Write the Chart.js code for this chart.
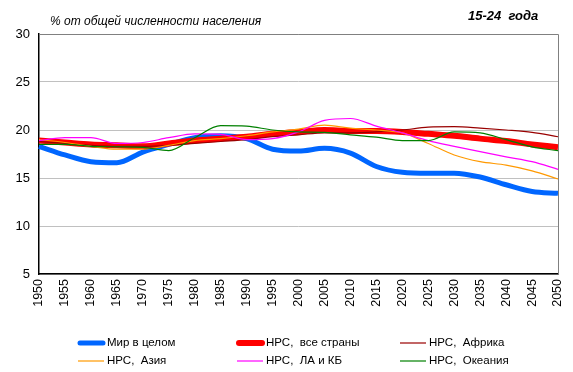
<!DOCTYPE html>
<html>
<head>
<meta charset="utf-8">
<script src="https://cdn.jsdelivr.net/npm/chart.js@4/dist/chart.umd.min.js"></script>
<style>
  html, body { margin: 0; padding: 0; background: #fff; }
  #wrap { width: 573px; height: 372px; }
</style>
</head>
<body>
<div id="wrap"><canvas id="chart" width="573" height="372"></canvas></div>
<script>
// years, one point every 5 years
const years = ['1950','1955','1960','1965','1970','1975','1980','1985','1990','1995','2000',
               '2005','2010','2015','2020','2025','2030','2035','2040','2045','2050'];

// share of 15-24 year olds, % of total population
const world    = [18.3,17.4,16.7,16.6,17.7,18.5,19.2,19.4,19.1,18.0,17.8,18.1,17.6,16.2,15.6,15.5,15.5,15.1,14.3,13.6,13.4];
const lessDev  = [18.9,18.7,18.5,18.4,18.3,18.6,18.9,19.1,19.3,19.6,19.8,20.0,19.9,19.9,19.8,19.6,19.4,19.1,18.85,18.5,18.2];
const africa   = [18.8,18.6,18.4,18.3,18.3,18.4,18.6,18.8,19.0,19.3,19.5,19.7,19.7,19.8,20.0,20.3,20.35,20.2,20.0,19.75,19.3];
const asia     = [19.0,18.7,18.3,18.0,18.0,18.4,18.9,19.1,19.4,19.8,20.1,20.5,20.2,20.0,19.7,18.6,17.4,16.7,16.35,15.75,14.9];
const latAm    = [18.9,19.2,19.2,18.6,18.7,19.2,19.6,19.55,19.0,19.1,19.8,21.0,21.2,20.4,19.7,18.9,18.3,17.75,17.2,16.7,15.9];
const oceania  = [18.5,18.5,18.3,18.25,18.2,17.85,19.2,20.45,20.4,20.0,19.8,19.75,19.5,19.25,18.9,18.9,19.8,19.7,19.0,18.25,17.85];

const yTicks = [5, 10, 15, 20, 25, 30];

const seriesLabels = ['Мир в целом', 'НРС,  все страны', 'НРС,  Африка', 'НРС,  Азия', 'НРС,  ЛА и КБ', 'НРС,  Океания'];
const seriesColors = ['#0066ff', '#ff0000', '#990000', '#ff9900', '#ff00ff', '#008000'];
const seriesWidths = [5, 6, 1.2, 1.2, 1.2, 1.2];
const seriesData = [world, lessDev, africa, asia, latAm, oceania];

const datasets = seriesData.map((d, i) => ({
  label: seriesLabels[i],
  data: d,
  borderColor: seriesColors[i],
  backgroundColor: seriesColors[i],
  borderWidth: seriesWidths[i],
  pointRadius: 0,
  tension: 0.4,
  cubicInterpolationMode: 'monotone',
  fill: false,
  order: 6 - i
}));

// titles, frame and a grid-like legend
const decor = {
  id: 'decor',
  afterDraw(chart) {
    const ctx = chart.ctx;
    const a = chart.chartArea;
    ctx.save();
    ctx.strokeStyle = '#808080';
    ctx.lineWidth = 1;
    ctx.beginPath();
    ctx.moveTo(a.left, a.top + 0.5);
    ctx.lineTo(a.right + 0.5, a.top + 0.5);
    ctx.lineTo(a.right + 0.5, a.bottom);
    ctx.stroke();

    ctx.fillStyle = '#000';
    ctx.textBaseline = 'middle';
    ctx.font = 'italic 12px "Liberation Sans", Arial, sans-serif';
    ctx.textAlign = 'left';
    ctx.fillText('% от общей численности населения', 50, 22);
    ctx.font = 'italic bold 13px "Liberation Sans", Arial, sans-serif';
    ctx.fillText('15-24  года', 468, 16);

    const colX = [78, 237, 400];
    const rowY = [343, 361];
    ctx.font = '11.5px "Liberation Sans", Arial, sans-serif';
    chart.data.datasets.forEach((ds, i) => {
      const x = colX[i % 3];
      const y = rowY[Math.floor(i / 3)];
      const thick = ds.borderWidth > 2;
      ctx.strokeStyle = ds.borderColor;
      ctx.lineWidth = ds.borderWidth;
      ctx.lineCap = thick ? 'round' : 'butt';
      ctx.beginPath();
      ctx.moveTo(x + (thick ? 2 : 0), y);
      ctx.lineTo(x + (thick ? 25 : 26), y);
      ctx.stroke();
      ctx.fillStyle = '#000';
      ctx.fillText(ds.label, x + 29, y);
    });
    ctx.restore();
  }
};

new Chart(document.getElementById('chart').getContext('2d'), {
  type: 'line',
  data: { labels: years, datasets: datasets },
  plugins: [decor],
  options: {
    responsive: false,
    animation: false,
    layout: { padding: { top: 34, right: 15, left: 0, bottom: 0 } },
    plugins: {
      legend: { display: false },
      tooltip: { enabled: false }
    },
    scales: {
      x: {
        offset: false,
        grid: { display: false, drawTicks: false },
        border: { color: '#000', width: 1.5 },
        ticks: {
          minRotation: 90, maxRotation: 90, autoSkip: false, padding: 5,
          color: '#000',
          font: { family: '"Liberation Sans", Arial, sans-serif', size: 12.5 }
        },
        afterFit(scale) {
          scale.height = 98;
          scale.paddingLeft = 0;
          scale.paddingRight = 0;
        }
      },
      y: {
        min: 5, max: 30,
        afterBuildTicks(scale) { scale.ticks = yTicks.map(v => ({ value: v })); },
        grid: { color: '#c0c0c0', drawTicks: false },
        border: { color: '#000', width: 1.5 },
        ticks: {
          padding: 9, color: '#000',
          font: { family: '"Liberation Sans", Arial, sans-serif', size: 13 }
        },
        afterFit(scale) { scale.width = 39; }
      }
    }
  }
});
</script>
</body>
</html>
